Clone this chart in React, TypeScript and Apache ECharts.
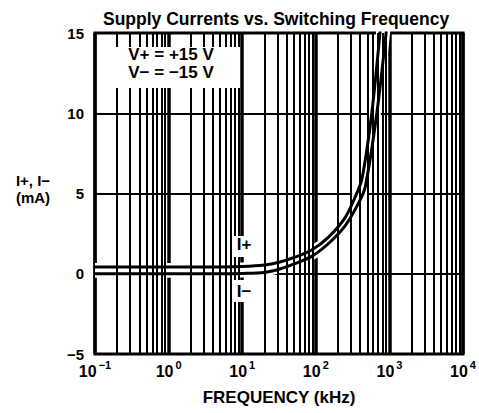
import React, { useEffect, useRef } from "react";
import * as echarts from "echarts";

// Supply current I+ (mA) vs switching frequency (kHz)
const iPlusFreq = [0.1, 1, 5, 10, 20, 31.6, 50, 89, 150, 250, 344, 423, 575, 750];
const iPlusCurrent = [0.42, 0.42, 0.42, 0.45, 0.55, 0.72, 1.0, 1.5, 2.3, 3.5, 4.8, 5.9, 10, 15.2];
// Supply current I- (mA) vs switching frequency (kHz)
const iMinusFreq = [0.1, 1, 5, 10, 20, 31.6, 50, 89, 150, 251, 380, 468, 674, 910];
const iMinusCurrent = [0.0, 0.0, 0.0, 0.02, 0.08, 0.28, 0.6, 1.1, 1.9, 3.0, 4.4, 5.4, 10, 15.2];

// log-paper grid: decades and the 2..9 lines in each
const decadeStarts = [0.1, 1, 10, 100, 1000];
const minorMultipliers = [2, 3, 4, 5, 6, 7, 8, 9];

const titleText = "Supply Currents vs. Switching Frequency";
const xAxisName = "FREQUENCY (kHz)";
const yAxisNameLines = ["I+, I\u2212", "(mA)"];
const conditionLines = ["V+ = +15 V", "V\u2212 = \u221215 V"];
const curveLabels = ["I+", "I\u2212"];

const FONT = "'Liberation Sans', Arial, Helvetica, sans-serif";

export default function App() {
  const ref = useRef<HTMLDivElement>(null);

  useEffect(() => {
    if (!ref.current) return;
    const chart = echarts.init(ref.current, undefined, { renderer: "svg" });

    const minorLines: { xAxis: number }[] = [];
    decadeStarts.forEach((d) =>
      minorMultipliers.forEach((m) => minorLines.push({ xAxis: +(d * m).toPrecision(6) }))
    );

    const plus = iPlusFreq.map((f, i) => [f, iPlusCurrent[i]]);
    const minus = iMinusFreq.map((f, i) => [f, iMinusCurrent[i]]);

    const curve = (name: string, data: number[][], color: string, width: number, z: number) => ({
      name,
      type: "line",
      data,
      smooth: 0.3,
      showSymbol: false,
      silent: true,
      z,
      lineStyle: { color, width },
    });

    const option: any = {
      animation: false,
      backgroundColor: "#fff",
      textStyle: { fontFamily: FONT },
      title: {
        text: titleText,
        left: 98,
        top: 5,
        textStyle: { fontSize: 17.5, fontWeight: "bold", color: "#000", fontFamily: FONT },
      },
      grid: {
        left: 95,
        right: 14,
        top: 33,
        bottom: 59,
        show: true,
        borderColor: "#000",
        borderWidth: 3,
        backgroundColor: "#fff",
      },
      xAxis: {
        type: "log",
        logBase: 10,
        min: 0.1,
        max: 10000,
        name: xAxisName,
        nameLocation: "middle",
        nameGap: 35,
        nameTextStyle: { fontSize: 17, fontWeight: "bold", color: "#000", fontFamily: FONT },
        axisLine: { show: false },
        axisTick: { show: false },
        splitLine: { show: true, lineStyle: { color: "#000", width: 3.5 } },
        axisLabel: {
          margin: 5,
          formatter: (v: number) => "{b|10}{s|" + String(Math.round(Math.log10(v))).replace("-", "\u2212") + "}",
          rich: {
            b: { fontSize: 16, fontWeight: "bold", color: "#000", fontFamily: FONT, lineHeight: 20, verticalAlign: "bottom" },
            s: { fontSize: 11, fontWeight: "bold", color: "#000", fontFamily: FONT, lineHeight: 20, verticalAlign: "top", padding: [0, 0, 0, 2] },
          },
        },
      },
      yAxis: {
        type: "value",
        min: -5,
        max: 15,
        interval: 5,
        axisLine: { show: false },
        axisTick: { show: false },
        splitLine: { show: true, lineStyle: { color: "#000", width: 2 } },
        axisLabel: {
          margin: 11,
          fontSize: 15,
          fontWeight: "bold",
          color: "#000",
          fontFamily: FONT,
          formatter: (v: number) => String(v).replace("-", "\u2212"),
        },
      },
      series: [
        {
          name: "grid",
          type: "line",
          data: [],
          z: 1,
          silent: true,
          markLine: {
            silent: true,
            symbol: ["none", "none"],
            label: { show: false },
            emphasis: { disabled: true },
            lineStyle: { color: "#000", width: 2, type: "solid" },
            data: minorLines,
          },
        },
        curve("I+ halo", plus, "#fff", 8, 2),
        curve("I- halo", minus, "#fff", 8, 2),
        curve("I+", plus, "#000", 3, 3),
        curve("I-", minus, "#000", 3, 3),
      ],
      graphic: [
        // conditions box
        { type: "rect", z: 100, shape: { x: 106, y: 47, width: 134, height: 41 }, style: { fill: "#fff" } },
        {
          type: "text", z: 101, x: 171, y: 46,
          style: { text: conditionLines[0], font: "bold 17px " + FONT, fill: "#000", align: "center", verticalAlign: "top" },
        },
        {
          type: "text", z: 101, x: 171, y: 64,
          style: { text: conditionLines[1], font: "bold 17px " + FONT, fill: "#000", align: "center", verticalAlign: "top" },
        },
        // I+ label
        { type: "rect", z: 100, shape: { x: 234, y: 236, width: 20, height: 21 }, style: { fill: "#fff" } },
        {
          type: "text", z: 101, x: 244, y: 236,
          style: { text: curveLabels[0], font: "bold 17px " + FONT, fill: "#000", align: "center", verticalAlign: "top" },
        },
        // I- label
        { type: "rect", z: 100, shape: { x: 233, y: 280, width: 21, height: 22 }, style: { fill: "#fff" } },
        {
          type: "text", z: 101, x: 244, y: 283,
          style: { text: curveLabels[1], font: "bold 17px " + FONT, fill: "#000", align: "center", verticalAlign: "top" },
        },
        // y axis name
        {
          type: "text", z: 101, x: 33, y: 173,
          style: { text: yAxisNameLines[0], font: "bold 15px " + FONT, fill: "#000", align: "center", verticalAlign: "top" },
        },
        {
          type: "text", z: 101, x: 33, y: 190,
          style: { text: yAxisNameLines[1], font: "bold 15px " + FONT, fill: "#000", align: "center", verticalAlign: "top" },
        },
      ],
    };

    chart.setOption(option);
    return () => chart.dispose();
  }, []);

  return (
    <div
      ref={ref}
      style={{ position: "fixed", left: 0, top: 0, width: 479, height: 413, background: "#fff" }}
    />
  );
}
